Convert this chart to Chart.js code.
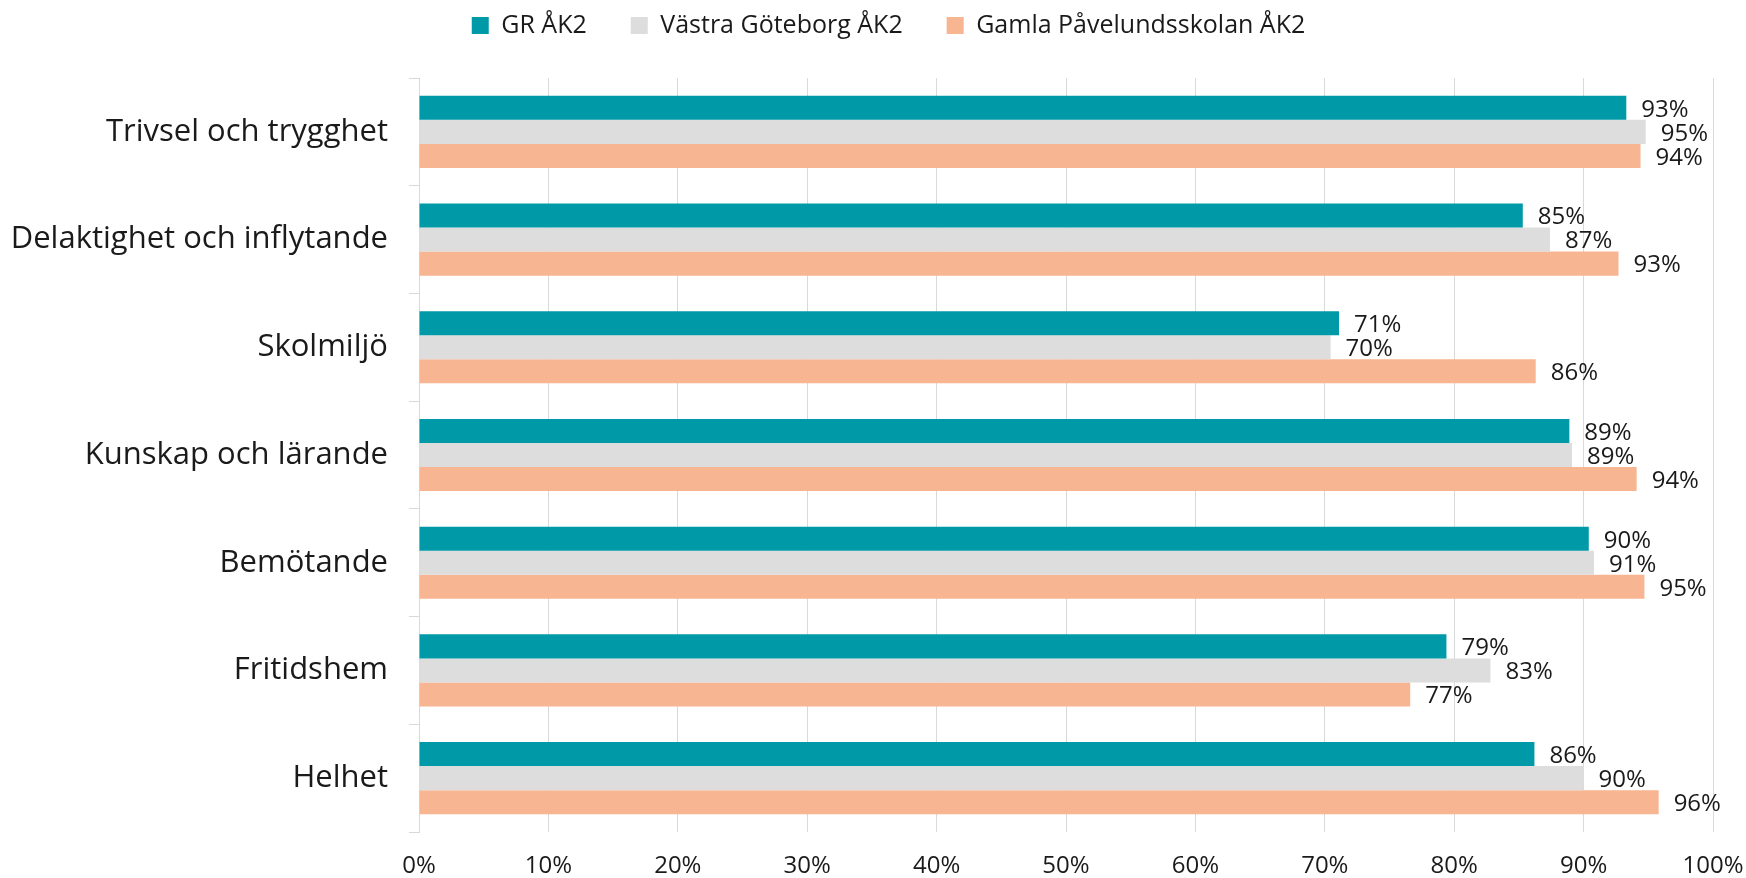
<!DOCTYPE html>
<html>
<head>
<meta charset="utf-8">
<script src="https://cdn.jsdelivr.net/npm/chart.js@4"></script>
<style>
  body { margin: 0; background: #fff; }
  #wrap { width: 1746px; height: 878px; }
</style>
</head>
<body>
<div id="wrap"><canvas id="chart-bar"></canvas></div>
<script>
let categories = ["Trivsel och trygghet", "Delaktighet och inflytande", "Skolmiljö", "Kunskap och lärande", "Bemötande", "Fritidshem", "Helhet"]
let seriesNames = ["GR ÅK2", "Västra Göteborg ÅK2", "Gamla Påvelundsskolan ÅK2"]
let grValues = [93.3, 85.3, 71.1, 88.9, 90.4, 79.4, 86.2]
let vastraValues = [94.8, 87.4, 70.45, 89.1, 90.8, 82.8, 90.0]
let gamlaValues = [94.4, 92.7, 86.3, 94.1, 94.7, 76.6, 95.8]
let xTicks = [0, 10, 20, 30, 40, 50, 60, 70, 80, 90, 100]

let fontName = '"Open Sans", sans-serif'
let gridColor = "rgb(217, 217, 217)"

// value labels to the right of each bar
const barLabels = {
    id: 'barLabels',
    afterDatasetsDraw(chart) {
        const ctx = chart.ctx
        ctx.save()
        ctx.font = '24px ' + fontName
        ctx.fillStyle = '#1a1a1a'
        ctx.textBaseline = 'middle'
        chart.data.datasets.forEach((ds, i) => {
            chart.getDatasetMeta(i).data.forEach((bar, j) => {
                ctx.fillText(Math.round(ds.data[j]) + '%', bar.x + 15, bar.y + 2)
            })
        })
        ctx.restore()
    }
}

// fixed legend band above the plot
const legendSpace = {
    id: 'legendSpace',
    beforeLayout(chart) {
        const lg = chart.legend
        if (lg && !lg._patched) {
            const fit = lg.fit
            lg.fit = function () {
                fit.call(this)
                this.height = 78
            }
            lg._patched = true
        }
    },
    afterLayout(chart) {
        chart.legend.top -= 31
        chart.legend.bottom -= 31
        chart.legend.left += 32
        chart.legend.right += 32
    }
}

let data3 = {
    labels: categories,
    datasets: [{
        label: seriesNames[0],
        data: grValues,
        backgroundColor: "rgb(0, 153, 168)"
    }, {
        label: seriesNames[1],
        data: vastraValues,
        backgroundColor: "rgb(221, 221, 221)"
    }, {
        label: seriesNames[2],
        data: gamlaValues,
        backgroundColor: "rgb(248, 181, 146)"
    }]
}

let barChart = new Chart(
    document.getElementById("chart-bar").getContext('2d'),
    {
        type: "bar",
        data: data3,
        plugins: [barLabels, legendSpace],
        options: {
            indexAxis: 'y',
            responsive: true,
            maintainAspectRatio: false,
            animation: false,
            layout: { padding: { left: 0, right: 33, top: 0, bottom: 0 } },
            datasets: {
                bar: { categoryPercentage: 0.67, barPercentage: 1.0 }
            },
            scales: {
                x: {
                    min: 0,
                    max: 100,
                    afterBuildTicks: (scale) => { scale.ticks = xTicks.map(v => ({ value: v })) },
                    afterFit: (scale) => {
                        scale.height = 46
                        scale.paddingLeft = 0
                        scale.paddingRight = 0
                    },
                    grid: { color: gridColor, drawTicks: false },
                    border: { display: false },
                    ticks: {
                        padding: 20,
                        color: '#1a1a1a',
                        font: { family: fontName, size: 24 },
                        callback: (v) => v + '%'
                    }
                },
                y: {
                    afterFit: (scale) => { scale.width = 419 },
                    grid: { color: gridColor, drawOnChartArea: false, offset: true, tickLength: 10 },
                    border: { color: gridColor },
                    ticks: {
                        padding: 21,
                        color: '#1a1a1a',
                        font: { family: fontName, size: 31 }
                    }
                }
            },
            plugins: {
                legend: {
                    position: 'top',
                    labels: {
                        boxWidth: 17,
                        boxHeight: 17,
                        padding: 44,
                        color: '#1a1a1a',
                        font: { family: fontName, size: 25 }
                    }
                },
                tooltip: { enabled: false }
            }
        }
    }
)
</script>
</body>
</html>
